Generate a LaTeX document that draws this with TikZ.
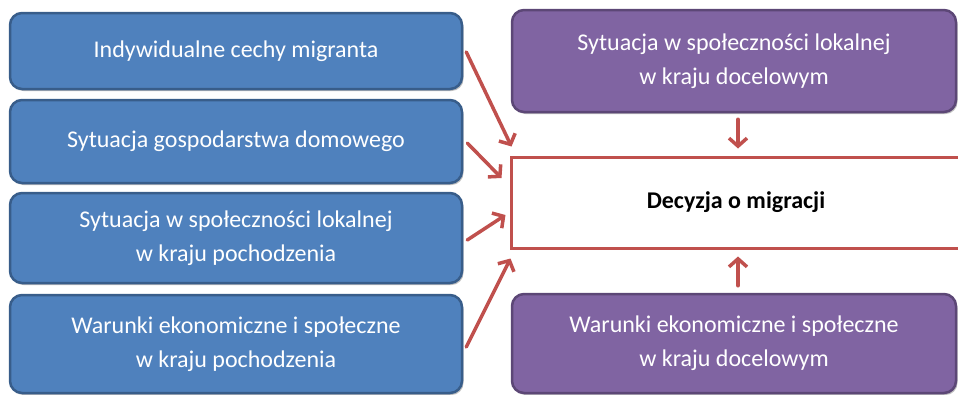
\documentclass[tikz,border=0pt]{standalone}
\usepackage{fontspec}
\setmainfont{Carlito}
\usetikzlibrary{arrows.meta,shadows}
\definecolor{bfill}{HTML}{4F81BD}
\definecolor{bline}{HTML}{385D8A}
\definecolor{pfill}{HTML}{8064A2}
\definecolor{pline}{HTML}{5C4776}
\definecolor{rline}{HTML}{C0504D}
\tikzset{
  box/.style={rounded corners=12pt, line width=2.5pt, text=white, align=center,
    font=\fontsize{24}{34}\selectfont, inner sep=0pt,
    drop shadow={shadow xshift=1.5pt, shadow yshift=-2pt, opacity=0.25, fill=black}},
  bluebox/.style={box, fill=bfill, draw=bline, minimum width=452pt},
  purplebox/.style={box, fill=pfill, draw=pline, minimum width=444pt},
  decbox/.style={draw=rline, line width=3pt, fill=white, minimum width=450pt, minimum height=91pt,
    font=\fontsize{24}{28}\bfseries\selectfont, inner sep=0pt},
  arr/.style={draw=rline, line width=3.5pt, line cap=round,
    -{Straight Barb[length=8pt, width=18pt, line width=3.5pt]}}
}
\begin{document}
\begin{tikzpicture}[x=1pt,y=-1pt]
\useasboundingbox (0,0) rectangle (958,394);
\node[bluebox, minimum height=76pt] (b1) at (236,51) {Indywidualne cechy migranta};
\node[bluebox, minimum height=83pt] (b2) at (236,141.5) {Sytuacja gospodarstwa domowego};
\node[bluebox, minimum height=90pt] (b3) at (236,238) {Sytuacja w społeczności lokalnej\\w kraju pochodzenia};
\node[bluebox, minimum height=98pt] (b4) at (236,344) {Warunki ekonomiczne i społeczne\\w kraju pochodzenia};
\node[purplebox, minimum height=102pt] (p1) at (734,61) {Sytuacja w społeczności lokalnej\\w kraju docelowym};
\node[purplebox, minimum height=99pt] (p2) at (734,343.5) {Warunki ekonomiczne i społeczne\\w kraju docelowym};
\node[decbox] (dec) at (736,202.5) {Decyzja o migracji};
\draw[arr] ([xshift=3pt,yshift=-1pt]b1.east) -- ([xshift=2pt,yshift=9pt]dec.north west);
\draw[arr] ([xshift=4pt,yshift=-1.5pt]b2.east) -- ([xshift=-8pt,yshift=24.5pt]dec.west);
\draw[arr] ([xshift=4pt,yshift=-2pt]b3.east) -- ([xshift=-4pt,yshift=-12.5pt]dec.west);
\draw[arr] ([xshift=3pt,yshift=-3pt]b4.east) -- ([xshift=1pt,yshift=-9pt]dec.south west);
\draw[arr] ([xshift=4pt,yshift=-6pt]p1.south) -- ([xshift=2pt,yshift=7pt]dec.north);
\draw[arr] ([xshift=4pt,yshift=7pt]p2.north) -- ([xshift=2pt,yshift=-7pt]dec.south);
\end{tikzpicture}
\end{document}
